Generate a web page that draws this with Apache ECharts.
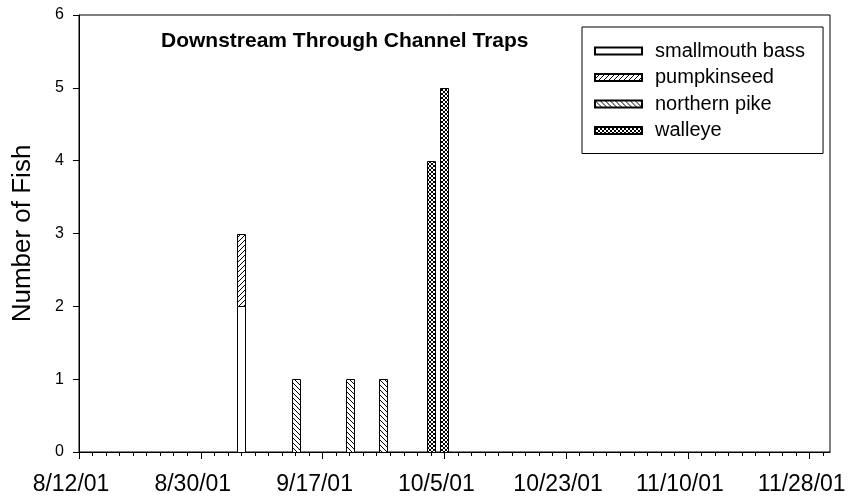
<!DOCTYPE html>
<html>
<head>
<meta charset="utf-8">
<style>
  html, body { margin: 0; padding: 0; background: #fff; }
  #chart { width: 852px; height: 501px; }
</style>
<script src="https://cdn.jsdelivr.net/npm/echarts@6/dist/echarts.min.js"></script>
</head>
<body>
<div id="chart"></div>
<script>
// Sampling dates and fish counts per species (downstream, channel traps)
const dates = ['9/5/01', '9/13/01', '9/21/01', '9/26/01', '10/3/01', '10/5/01'];
const smallmouthBass = [2, 0, 0, 0, 0, 0];
const pumpkinseed    = [1, 0, 0, 0, 0, 0];
const northernPike   = [0, 1, 1, 1, 0, 0];
const walleye        = [0, 0, 0, 0, 4, 5];

// Axis range and tick labels (every 18 days)
const startDate = '8/12/01';
const endDate = '12/1/01';
const tickLabels = ['8/12/01', '8/30/01', '9/17/01', '10/5/01', '10/23/01', '11/10/01', '11/28/01'];
const yTicks = [0, 1, 2, 3, 4, 5, 6];

function parseDate(s) {
  const p = s.split('/').map(Number);
  return Date.UTC(2000 + p[2], p[0] - 1, p[1]);
}
const DAY = 86400000;
const t0 = parseDate(startDate);
// day number counted from the start of the axis
function dayOf(s) { return Math.round((parseDate(s) - t0) / DAY); }

const xMax = dayOf(endDate);
const majorTicks = tickLabels.map(dayOf);
const minorTicks = [];
for (let d = 0; d < xMax; d += 2) minorTicks.push(d);

// Hatch fills drawn on small canvases
function hatch(kind, size) {
  const c = document.createElement('canvas');
  c.width = size; c.height = size;
  const g = c.getContext('2d');
  g.fillStyle = '#fff';
  g.fillRect(0, 0, size, size);
  g.strokeStyle = '#000';
  g.lineWidth = 1;
  const fwd = () => {
    g.beginPath();
    g.moveTo(-1, size + 1); g.lineTo(size + 1, -1);
    g.moveTo(-1, 1); g.lineTo(1, -1);
    g.moveTo(size - 1, size + 1); g.lineTo(size + 1, size - 1);
    g.stroke();
  };
  const back = () => {
    g.beginPath();
    g.moveTo(-1, -1); g.lineTo(size + 1, size + 1);
    g.moveTo(size - 1, -1); g.lineTo(size + 1, 1);
    g.moveTo(-1, size - 1); g.lineTo(1, size + 1);
    g.stroke();
  };
  if (kind === 'fwd') fwd();
  if (kind === 'back') back();
  if (kind === 'cross') { fwd(); back(); }
  return { image: c, repeat: 'repeat' };
}

// Species stacked bottom to top on each date
const species = [
  { name: 'smallmouth bass', values: smallmouthBass, fill: '#fff' },
  { name: 'pumpkinseed',     values: pumpkinseed,    fill: hatch('fwd', 5) },
  { name: 'northern pike',   values: northernPike,   fill: hatch('back', 5) },
  { name: 'walleye',         values: walleye,        fill: hatch('cross', 4) }
];

// [day, bottom, top] for every non-empty segment
function segments(k) {
  const out = [];
  dates.forEach((d, i) => {
    let base = 0;
    for (let j = 0; j < k; j++) base += species[j].values[i];
    const v = species[k].values[i];
    if (v > 0) out.push([dayOf(d), base, base + v]);
  });
  return out;
}

const BAR_W = 8;
function renderBar(params, api) {
  const bottom = api.coord([api.value(0), api.value(1)]);
  const top = api.coord([api.value(0), api.value(2)]);
  const x = Math.round(bottom[0] - BAR_W / 2) + 0.5;
  const y0 = Math.round(top[1]) + 0.5;
  const y1 = Math.round(bottom[1]) + 0.5;
  return {
    type: 'rect',
    shape: { x: x, y: y0, width: BAR_W, height: y1 - y0 },
    style: api.style()
  };
}

const FONT = 'Liberation Sans, Arial, sans-serif';

const chart = echarts.init(document.getElementById('chart'), null, { renderer: 'canvas' });

chart.setOption({
  animation: false,
  backgroundColor: '#fff',
  title: {
    text: 'Downstream Through Channel Traps',
    left: 161,
    top: 31,
    padding: 0,
    textStyle: { fontFamily: FONT, fontSize: 21, fontWeight: 'bold', color: '#000' }
  },
  legend: {
    orient: 'vertical',
    left: 582,
    top: 27,
    padding: [14, 18, 13, 12],
    itemGap: 6.5,
    itemWidth: 47,
    itemHeight: 7,
    icon: 'rect',
    borderColor: '#000',
    borderWidth: 1,
    selectedMode: false,
    textStyle: { fontFamily: FONT, fontSize: 20, color: '#000', lineHeight: 20, padding: [0, 0, 0, 8] },
    data: species.map(s => s.name)
  },
  grid: {
    left: 79, right: 22, top: 15, bottom: 49,
    show: true, borderColor: '#000', borderWidth: 1, backgroundColor: 'transparent'
  },
  xAxis: [
    {
      type: 'value',
      min: 0,
      max: xMax,
      splitLine: { show: false },
      axisLine: { lineStyle: { color: '#000', width: 1 } },
      axisTick: { customValues: majorTicks, length: 7, lineStyle: { color: '#000' } },
      axisLabel: {
        customValues: majorTicks,
        formatter: v => tickLabels[majorTicks.indexOf(v)] || '',
        fontFamily: FONT, fontSize: 23, color: '#000',
        margin: 21,
        padding: [0, 16, 0, 0]
      }
    },
    {
      type: 'value',
      min: 0,
      max: xMax,
      position: 'bottom',
      splitLine: { show: false },
      axisLine: { show: false },
      axisTick: { customValues: minorTicks, length: 4, lineStyle: { color: '#000' } },
      axisLabel: { show: false }
    }
  ],
  yAxis: {
    type: 'value',
    min: 0,
    max: 6,
    interval: 1,
    name: 'Number of Fish',
    nameLocation: 'middle',
    nameGap: 43,
    nameTextStyle: { fontFamily: FONT, fontSize: 26, color: '#000' },
    splitLine: { show: false },
    axisLine: { show: true, lineStyle: { color: '#000', width: 1 } },
    axisTick: { show: true, length: 6, lineStyle: { color: '#000' } },
    axisLabel: {
      fontFamily: FONT, fontSize: 16, color: '#000', margin: 15,
      formatter: v => (yTicks.indexOf(v) >= 0 ? String(v) : '')
    }
  },
  series: species.map((s, k) => ({
    name: s.name,
    type: 'custom',
    renderItem: renderBar,
    encode: { x: 0, y: [1, 2] },
    data: segments(k),
    itemStyle: { color: s.fill, borderColor: '#000', borderWidth: 1 },
    emphasis: { disabled: true }
  }))
});
</script>
</body>
</html>
